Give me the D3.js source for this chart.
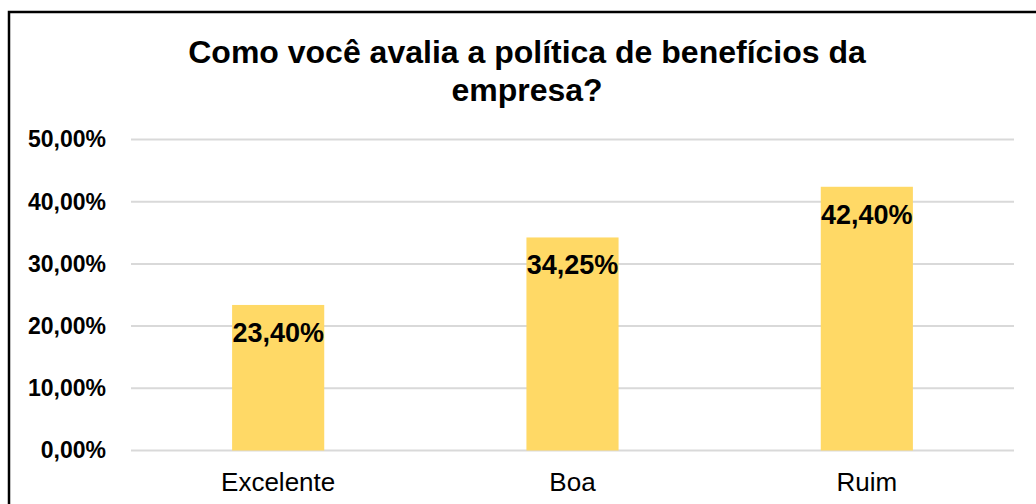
<!DOCTYPE html>
<html>
<head>
<meta charset="utf-8">
<script src="https://cdn.jsdelivr.net/npm/d3@7"></script>
<style>
  body { margin: 0; background: #fff; }
  text { font-family: "Liberation Sans", Arial, sans-serif; }
</style>
</head>
<body>
<div id="chart"></div>
<script>
// chart data
const categories = ["Excelente", "Boa", "Ruim"];
const values = [23.40, 34.25, 42.40];
const yTicks = [0, 10, 20, 30, 40, 50];
const titleLines = ["Como você avalia a política de benefícios da", "empresa?"];

const W = 1036, H = 504;
const margin = { top: 139.5, right: 22, bottom: 53.5, left: 131 };

const svg = d3.select("#chart").append("svg")
    .attr("width", W)
    .attr("height", H);

// outer frame (runs off the right and bottom of the picture)
svg.append("rect")
    .attr("x", 9).attr("y", 12)
    .attr("width", W + 20).attr("height", H + 20)
    .attr("fill", "none")
    .attr("stroke", "#000")
    .attr("stroke-width", 2.5);

const x = d3.scaleBand()
    .domain(categories)
    .range([margin.left, W - margin.right])
    .paddingInner(0.687)
    .paddingOuter(0.3435);

const y = d3.scaleLinear()
    .domain([0, 50])
    .range([H - margin.bottom, margin.top]);

// gridlines
svg.append("g")
    .selectAll("line")
    .data(yTicks)
    .join("line")
    .attr("x1", margin.left)
    .attr("x2", W - margin.right)
    .attr("y1", d => y(d))
    .attr("y2", d => y(d))
    .attr("stroke", "#d9d9d9")
    .attr("stroke-width", 2);

// y axis labels
const fmt = v => v.toFixed(2).replace(".", ",") + "%";
const yAxis = svg.append("g")
    .attr("transform", `translate(${margin.left}, 0)`)
    .call(d3.axisLeft(y).tickValues(yTicks).tickFormat(fmt).tickSize(0).tickPadding(25));
yAxis.select(".domain").remove();
yAxis.selectAll("text")
    .attr("font-family", "Liberation Sans, Arial, sans-serif")
    .attr("font-size", 23)
    .attr("font-weight", "bold")
    .attr("fill", "#000");

// bars
svg.append("g")
    .selectAll("rect")
    .data(values)
    .join("rect")
    .attr("x", (d, i) => x(categories[i]))
    .attr("y", d => y(d))
    .attr("width", x.bandwidth())
    .attr("height", d => y(0) - y(d))
    .attr("fill", "#ffd966");

// value labels
svg.append("g")
    .selectAll("text")
    .data(values)
    .join("text")
    .attr("x", (d, i) => x(categories[i]) + x.bandwidth() / 2)
    .attr("y", d => y(d) + 37)
    .attr("text-anchor", "middle")
    .attr("font-size", 27)
    .attr("font-weight", "bold")
    .attr("fill", "#000")
    .text(d => fmt(d));

// category labels
svg.append("g")
    .selectAll("text")
    .data(categories)
    .join("text")
    .attr("x", d => x(d) + x.bandwidth() / 2)
    .attr("y", 491)
    .attr("text-anchor", "middle")
    .attr("font-size", 26)
    .attr("fill", "#000")
    .text(d => d);

// title
svg.append("g")
    .selectAll("text")
    .data(titleLines)
    .join("text")
    .attr("x", 527)
    .attr("y", (d, i) => 63 + i * 38)
    .attr("text-anchor", "middle")
    .attr("font-size", 32)
    .attr("font-weight", "bold")
    .attr("fill", "#000")
    .text(d => d);
</script>
</body>
</html>
